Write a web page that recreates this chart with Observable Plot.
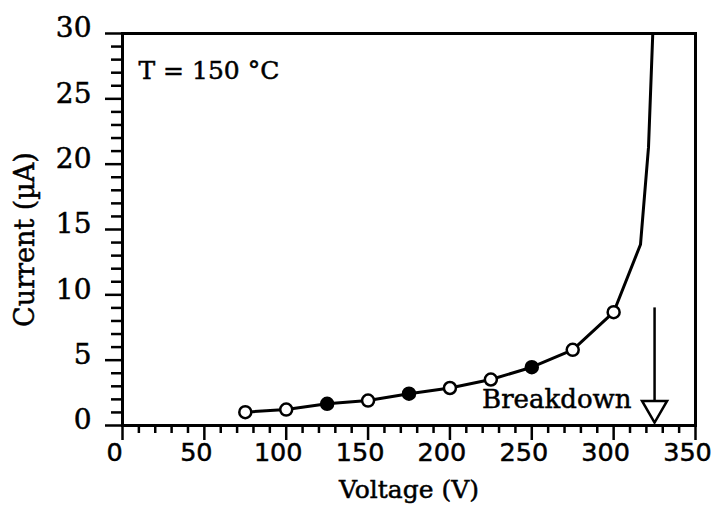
<!DOCTYPE html>
<html><head><meta charset="utf-8">
<script src="https://cdn.jsdelivr.net/npm/d3@7"></script>
<script src="https://cdn.jsdelivr.net/npm/@observablehq/plot@0.6"></script>
<style>
html,body{margin:0;padding:0;background:#fff;}
#chart svg text{stroke:#000;stroke-width:0.5px;}
</style>
</head><body><div id="chart"></div>
<script>
// Measured points (V, µA)
const voltage = [75, 100, 125, 150, 175, 200, 225, 250, 275, 300];
const current = [1.02, 1.22, 1.66, 1.91, 2.43, 2.87, 3.52, 4.46, 5.79, 8.67];
const markerStyle = ["open", "open", "filled", "open", "filled", "open", "open", "filled", "open", "open"];
// Continuation of the curve toward breakdown
const extVoltage = [316.4, 321.3, 323.9];
const extCurrent = [13.85, 21.3, 30];
// Axes
const xTicks = [0, 50, 100, 150, 200, 250, 300, 350];
const yTicks = [0, 5, 10, 15, 20, 25, 30];
const xMinor = d3.range(0, 351, 10).filter(v => v % 50 !== 0);
const yMinor = d3.range(0, 31, 1).filter(v => v % 5 !== 0);
// Breakdown annotation
const breakdownVoltage = [325];
const arrowFrom = [9];
const arrowTo = [1.9];
const arrowHead = [1.33];
const labels = {title: "T = 150 °C", breakdown: "Breakdown", x: "Voltage (V)", y: "Current (µA)"};

const points = voltage.map((v, i) => ({v, c: current[i], s: markerStyle[i]}));
const allCurrent = current.concat(extCurrent);
const curve = voltage.concat(extVoltage).map((v, i) => ({v, c: allCurrent[i]}));
const bd = breakdownVoltage.map((v, i) => ({v, y1: arrowFrom[i], y2: arrowTo[i], h: arrowHead[i]}));

const serif = "DejaVu Serif";
const sans = "DejaVu Sans";

const chart = Plot.plot({
  width: 717, height: 506,
  marginLeft: 122, marginRight: 22, marginTop: 33, marginBottom: 81,
  style: {background: "white", color: "black", fontFamily: serif, overflow: "visible"},
  x: {domain: [0, 350]},
  y: {domain: [0, 30]},
  marks: [
    Plot.frame({stroke: "black", strokeWidth: 3}),
    Plot.axisX(xMinor, {tickSize: 8, strokeWidth: 2.5, fill: "none", label: null}),
    Plot.axisX(xTicks, {tickSize: 15, strokeWidth: 2.5, fill: "none", label: null}),
    Plot.axisX(xTicks, {tickSize: 15, tickPadding: 2, stroke: "none", dx: -8, fontSize: 25.5, fontFamily: sans, label: null, tickFormat: d => String(d)}),
    Plot.axisY(yMinor, {tickSize: 11, strokeWidth: 2.5, fill: "none", label: null}),
    Plot.axisY(yTicks, {tickSize: 17, strokeWidth: 2.5, fill: "none", label: null}),
    Plot.axisY(yTicks, {tickSize: 17, tickPadding: 14, stroke: "none", fontSize: 28, fontFamily: serif, dy: -5, label: null, tickFormat: d => String(d)}),
    Plot.line(curve, {x: "v", y: "c", stroke: "black", strokeWidth: 3}),
    Plot.dot(points.filter(d => d.s === "open"), {x: "v", y: "c", r: 6, stroke: "black", strokeWidth: 2.5, fill: "white"}),
    Plot.dot(points.filter(d => d.s === "filled"), {x: "v", y: "c", r: 6, stroke: "black", strokeWidth: 2.5, fill: "black"}),
    Plot.ruleX(bd, {x: "v", y1: "y1", y2: "y2", stroke: "black", strokeWidth: 2.5}),
    Plot.dot(bd, {x: "v", y: "h", symbol: "triangle", rotate: 180, r: 9.3, stroke: "black", strokeWidth: 2.5, fill: "white"}),
    Plot.text(bd, {x: "v", y: 0, text: () => labels.breakdown, textAnchor: "end", lineAnchor: "bottom", dx: -23, dy: -18, fontSize: 26, fontFamily: serif, fill: "black"}),
    Plot.text([labels.title], {text: d => d, frameAnchor: "top-left", textAnchor: "start", lineAnchor: "bottom", dx: 16, dy: 45, fontSize: 25, fontFamily: serif, fill: "black"}),
    Plot.text([labels.x], {text: d => d, frameAnchor: "bottom", textAnchor: "middle", lineAnchor: "bottom", dy: 72, fontSize: 25, fontFamily: serif, fill: "black"}),
    Plot.text([labels.y], {text: d => d, frameAnchor: "left", textAnchor: "middle", rotate: -90, lineAnchor: "bottom", dx: -89, dy: 10, fontSize: 27, fontFamily: serif, fill: "black"})
  ]
});
document.getElementById("chart").appendChild(chart);
</script>
</body></html>
